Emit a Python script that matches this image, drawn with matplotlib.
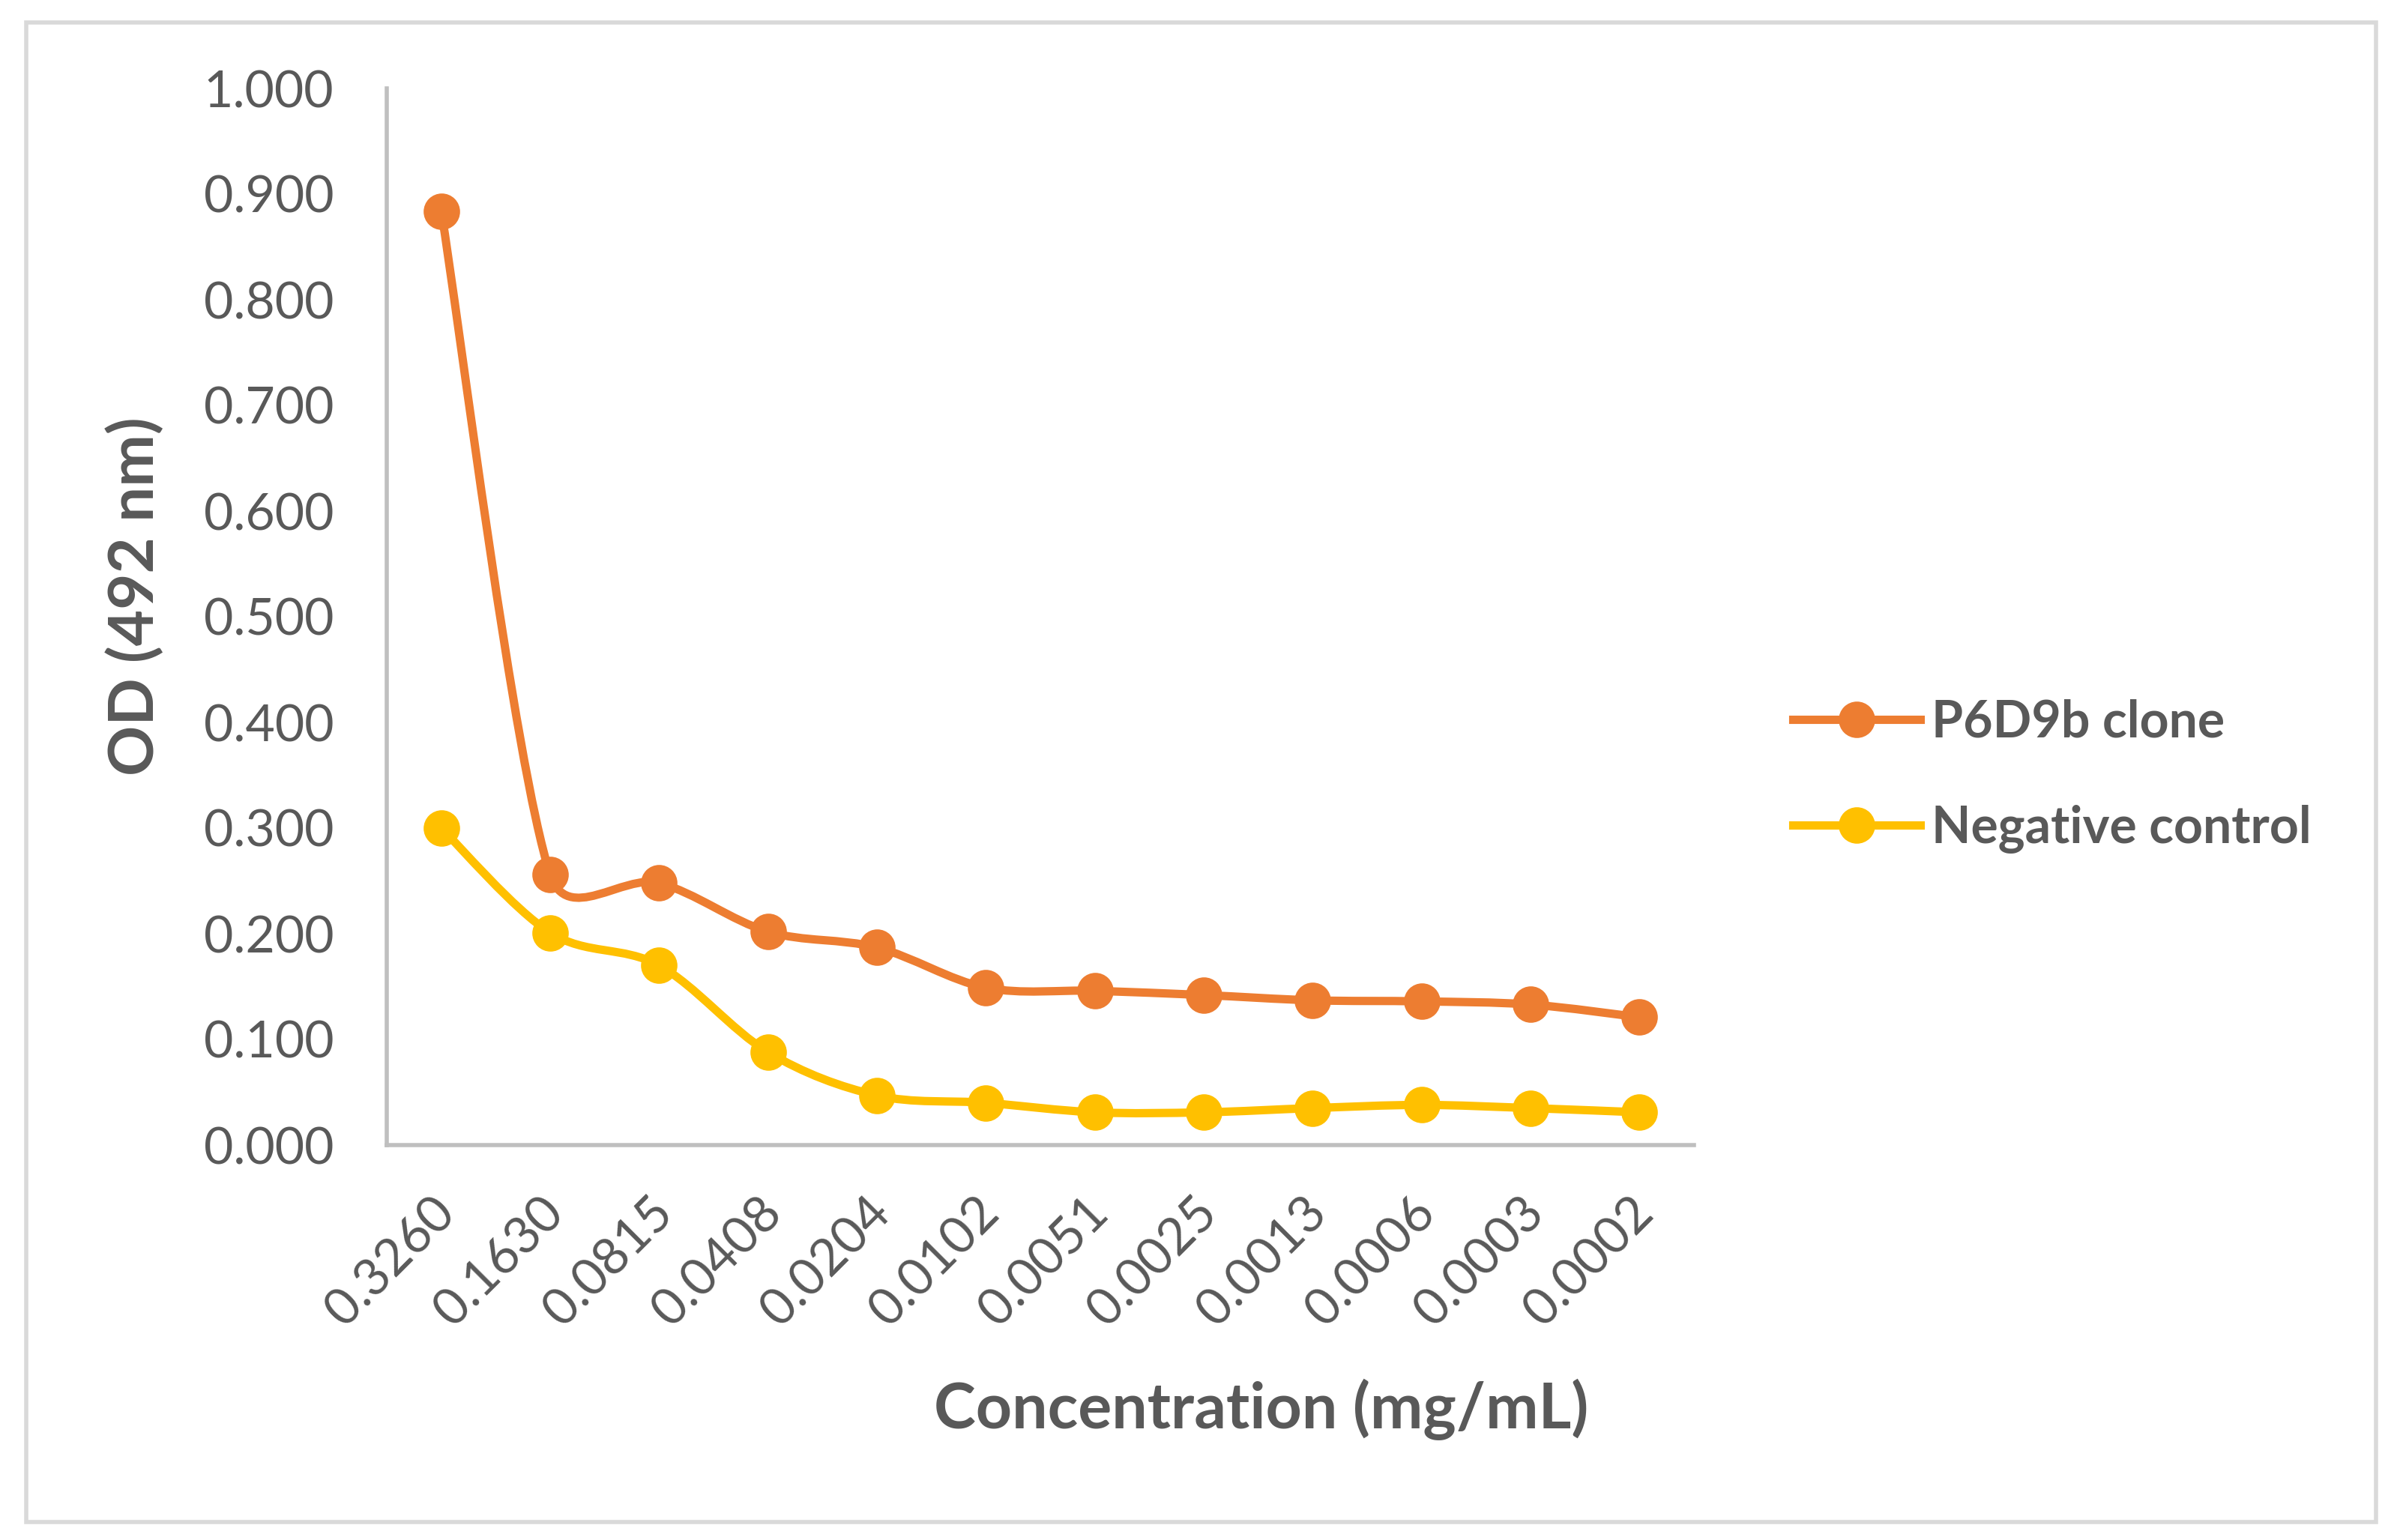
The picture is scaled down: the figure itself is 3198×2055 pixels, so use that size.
import numpy as np
import matplotlib
matplotlib.use("Agg")
import matplotlib.pyplot as plt
import matplotlib.transforms as mtransforms
from matplotlib.path import Path
from matplotlib.patches import PathPatch, Rectangle
from matplotlib.lines import Line2D

#############################################################################
# Data #
concentrations = ["0.3260", "0.1630", "0.0815", "0.0408", "0.0204", "0.0102",
                  "0.0051", "0.0025", "0.0013", "0.0006", "0.0003", "0.0002"]
p6d9b_clone = [0.884, 0.256, 0.248, 0.202, 0.187, 0.149,
               0.146, 0.142, 0.137, 0.136, 0.133, 0.121]
negative_control = [0.300, 0.201, 0.170, 0.088, 0.047, 0.040,
                    0.031, 0.031, 0.035, 0.038, 0.035, 0.031]
y_ticks = [0.0, 0.1, 0.2, 0.3, 0.4, 0.5, 0.6, 0.7, 0.8, 0.9, 1.0]

ORANGE = "#ED7D31"
YELLOW = "#FFC000"
TEXT = "#595959"
AXIS = "#BFBFBF"
LW = 4.0
MS = 16.5

plt.rcParams['font.family'] = ['Lato', 'DejaVu Sans']


#############################################################################
# Excel-like smoothed line #
def smooth_path(xs, ys, yscale, tension=1/6, cap=0.5):
    pts = np.column_stack([np.asarray(xs, float), np.asarray(ys, float) * yscale])
    n = len(pts)
    verts = [pts[0]]
    codes = [Path.MOVETO]
    for i in range(n - 1):
        p0 = pts[max(i - 1, 0)]
        p1 = pts[i]
        p2 = pts[i + 1]
        p3 = pts[min(i + 2, n - 1)]
        seg = np.linalg.norm(p2 - p1)
        a1 = (p2 - p0) * tension
        a2 = (p3 - p1) * tension
        # keep control arms short relative to the segment
        if np.linalg.norm(a1) > cap * seg:
            a1 = a1 * cap * seg / np.linalg.norm(a1)
        if np.linalg.norm(a2) > cap * seg:
            a2 = a2 * cap * seg / np.linalg.norm(a2)
        verts += [p1 + a1, p2 - a2, p2]
        codes += [Path.CURVE4] * 3
    verts = np.array(verts)
    verts[:, 1] /= yscale
    return Path(verts, codes)


#############################################################################
# Plotting #
W, H = 3198, 2055
fig = plt.figure(figsize=(W / 200, H / 200), dpi=200)

# outer chart frame
fig.add_artist(Rectangle((35 / W, 1 - 2031 / H), (3170 - 35) / W, (2031 - 30) / H,
                         transform=fig.transFigure, fill=False,
                         edgecolor="#D9D9D9", linewidth=2.0))

left, right, top, bottom = 516, 2260, 118, 1528
ax = fig.add_axes([left / W, 1 - bottom / H, (right - left) / W, (bottom - top) / H])

x = np.arange(len(concentrations))
# pixel ratio between one y unit and one category step
yscale = (bottom - top) / ((right - left) / len(concentrations))

for vals, col, lab in [(p6d9b_clone, ORANGE, "P6D9b clone"),
                       (negative_control, YELLOW, "Negative control")]:
    ax.add_patch(PathPatch(smooth_path(x, vals, yscale), fill=False,
                           edgecolor=col, linewidth=LW, capstyle='round',
                           joinstyle='round', zorder=2))
    ax.plot(x, vals, linestyle='none', marker='o', markersize=MS,
            color=col, zorder=3, label=lab)

ax.set_xlim(-0.5, len(concentrations) - 0.5)
ax.set_ylim(0, 1.0)
ax.set_yticks(y_ticks)
ax.set_yticklabels([f"{v:.3f}" for v in y_ticks])
ax.set_xticks(x)
ax.set_xticklabels(concentrations, rotation=45, ha='right', va='center',
                   rotation_mode='anchor')

ax.tick_params(axis='y', length=0, pad=25.5, labelsize=24.5, labelcolor=TEXT)
ax.tick_params(axis='x', length=0, pad=29, labelsize=24.5, labelcolor=TEXT)

# nudge the slanted labels a little to the right
shift = mtransforms.ScaledTranslation(8 / 200, 0, fig.dpi_scale_trans)
for lbl in ax.get_xticklabels():
    lbl.set_transform(lbl.get_transform() + shift)

for s in ['top', 'right']:
    ax.spines[s].set_visible(False)
for s in ['left', 'bottom']:
    ax.spines[s].set_color(AXIS)
    ax.spines[s].set_linewidth(2.0)

# axis titles
fig.text(180 / W, 1 - 796 / H, "OD (492 nm)", rotation=90, ha='center', va='center',
         fontsize=30, fontweight='bold', color=TEXT)
fig.text(1683 / W, 1 - 1881 / H, "Concentration (mg/mL)", ha='center', va='center',
         fontsize=30.3, fontweight='bold', color=TEXT)

# legend
handles = [Line2D([], [], color=ORANGE, linewidth=LW, marker='o', markersize=MS),
           Line2D([], [], color=YELLOW, linewidth=LW, marker='o', markersize=MS)]
leg = fig.legend(handles, ["P6D9b clone", "Negative control"], loc='center left',
                 bbox_to_anchor=(2392 / W, 1 - 1036 / H), frameon=False,
                 fontsize=24.5, handlelength=2.5, handletextpad=0.22,
                 labelspacing=1.15, borderpad=0, borderaxespad=0)
for t in leg.get_texts():
    t.set_color(TEXT)
    t.set_fontweight('bold')

plt.savefig("out.png", dpi=200, facecolor='white')
